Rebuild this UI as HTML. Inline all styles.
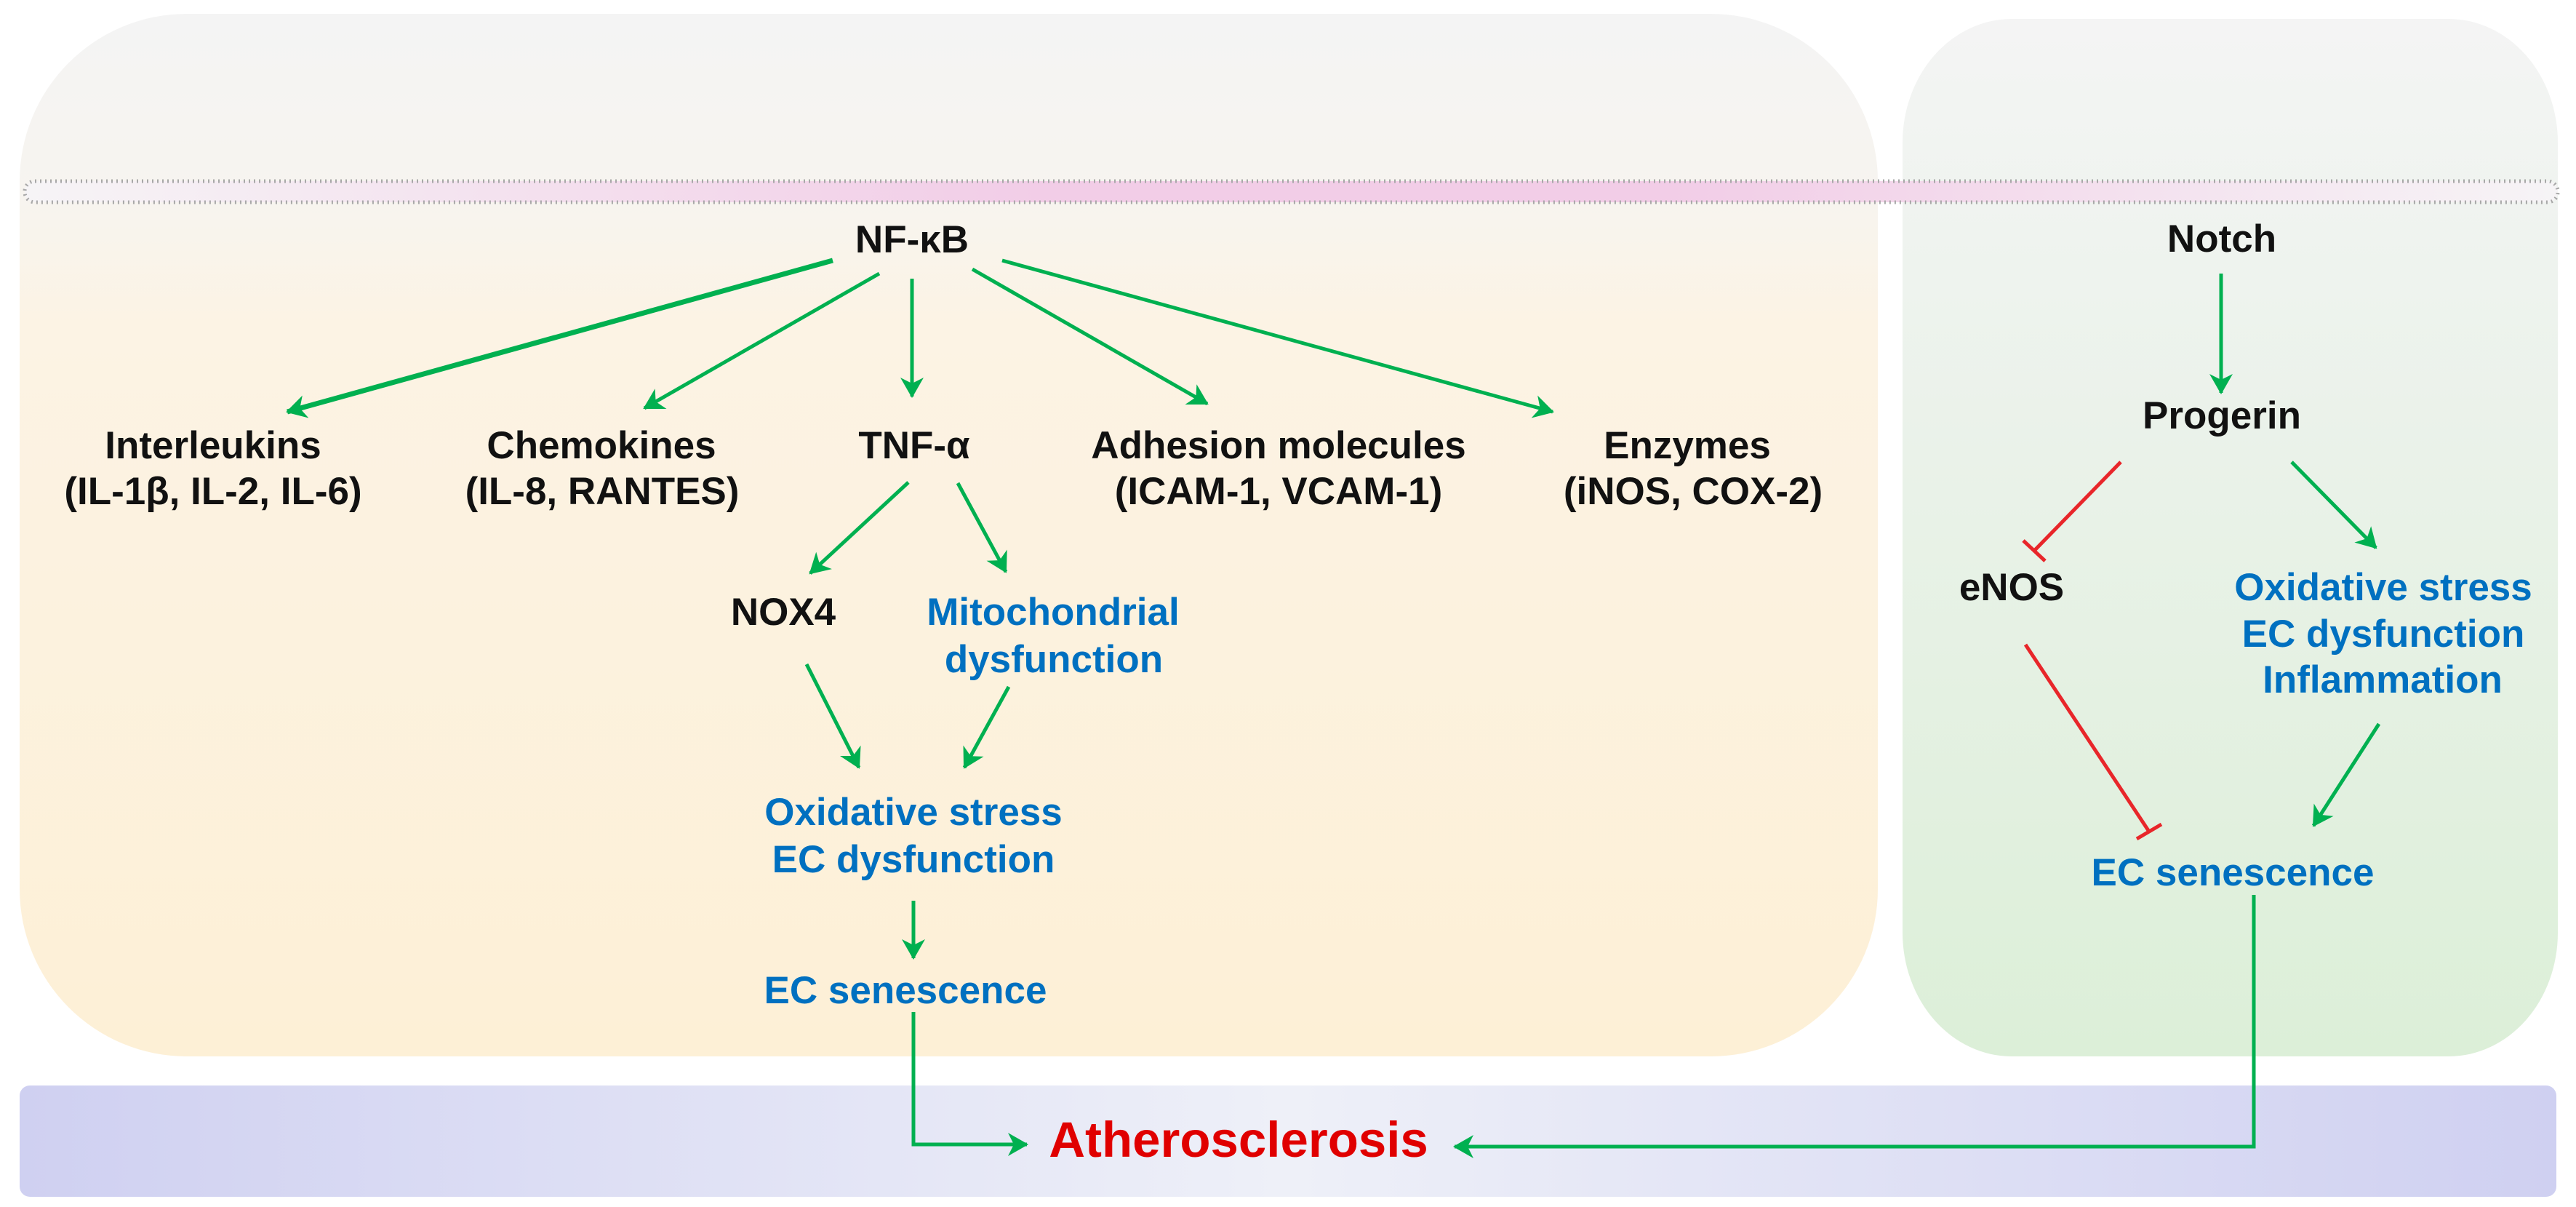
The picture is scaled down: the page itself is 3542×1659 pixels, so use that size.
<!DOCTYPE html>
<html><head><meta charset="utf-8"><style>
html,body{margin:0;padding:0;background:#fff;}
svg{display:block;}
text{font-family:"Liberation Sans",Arial,sans-serif;font-weight:bold;text-anchor:middle;}
.k{fill:#111;font-size:53px;}
.b{fill:#0070c0;font-size:53px;}
</style></head><body>
<svg width="3542" height="1659" viewBox="0 0 3542 1659" xmlns="http://www.w3.org/2000/svg">
<defs>
<linearGradient id="gl" x1="0" y1="0" x2="0" y2="1">
<stop offset="0" stop-color="#f4f4f4"/><stop offset="0.18" stop-color="#f7f4ef"/><stop offset="0.3" stop-color="#fcf3e4"/><stop offset="1" stop-color="#fdf0d6"/></linearGradient>
<linearGradient id="gr" x1="0" y1="0" x2="0" y2="1">
<stop offset="0" stop-color="#f4f4f4"/><stop offset="0.25" stop-color="#eef3ee"/><stop offset="1" stop-color="#dcefd8"/></linearGradient>
<linearGradient id="gb" x1="0" y1="0" x2="1" y2="0">
<stop offset="0" stop-color="#cfd0f1"/><stop offset="0.5" stop-color="#eef0f8"/><stop offset="1" stop-color="#cfd0f1"/></linearGradient>
<linearGradient id="gd" x1="0" y1="0" x2="1" y2="0">
<stop offset="0" stop-color="#f6f4f6"/><stop offset="0.4" stop-color="#f2cde7"/><stop offset="0.65" stop-color="#f2cde7"/><stop offset="1" stop-color="#f6f4f6"/></linearGradient>
<marker id="ah" markerWidth="10" markerHeight="10" refX="8" refY="5" orient="auto" markerUnits="userSpaceOnUse" viewBox="0 0 10 10" style="overflow:visible">
<path d="M-18,-11 L10,5 L-18,21 L-10,5 Z" fill="#00b050"/></marker>
</defs>
<rect x="27" y="19" width="2555" height="1433" rx="230" ry="230" fill="url(#gl)"/>
<rect x="2616" y="26" width="901" height="1426" rx="150" ry="170" fill="url(#gr)"/>
<rect x="34" y="249" width="3483" height="29" rx="14" fill="url(#gd)" stroke="#a8a8a8" stroke-width="5" stroke-dasharray="2 5"/>
<rect x="27" y="1492" width="3488" height="153" rx="14" fill="url(#gb)"/>

<g stroke="#00b050" stroke-width="5" fill="none" marker-end="url(#ah)">
<line x1="1145" y1="358" x2="395" y2="566" stroke-width="7"/>
<line x1="1209" y1="376" x2="886" y2="561"/>
<line x1="1254" y1="383" x2="1254" y2="545"/>
<line x1="1337" y1="370" x2="1660" y2="555"/>
<line x1="1378" y1="358" x2="2135" y2="566"/>
<line x1="1249" y1="663" x2="1114" y2="788"/>
<line x1="1317" y1="664" x2="1383" y2="786"/>
<line x1="1109" y1="913" x2="1181" y2="1055"/>
<line x1="1387" y1="944" x2="1326" y2="1055"/>
<line x1="1256" y1="1238" x2="1256" y2="1317"/>
<polyline points="1256,1391 1256,1573 1412,1573"/>
<polyline points="3099,1230 3099,1576 2000,1576"/>
<line x1="3054" y1="376" x2="3054" y2="540"/>
<line x1="3151" y1="635" x2="3267" y2="753"/>
<line x1="3271" y1="995" x2="3181" y2="1135"/>
</g>
<g stroke="#e8262a" stroke-width="5" fill="none">
<line x1="2916" y1="635" x2="2797" y2="757"/>
<line x1="2782" y1="743" x2="2812" y2="771"/>
<line x1="2785" y1="886" x2="2955" y2="1143"/>
<line x1="2938" y1="1153" x2="2972" y2="1133"/>
</g>

<text class="k" x="1254" y="347">NF-κB</text>
<text class="k" x="293" y="630">Interleukins</text>
<text class="k" x="293" y="693">(IL-1β, IL-2, IL-6)</text>
<text class="k" x="827" y="630">Chemokines</text>
<text class="k" x="828" y="693">(IL-8, RANTES)</text>
<text class="k" x="1257" y="630">TNF-α</text>
<text class="k" x="1758" y="630">Adhesion molecules</text>
<text class="k" x="1758" y="693">(ICAM-1, VCAM-1)</text>
<text class="k" x="2320" y="630">Enzymes</text>
<text class="k" x="2328" y="693">(iNOS, COX-2)</text>
<text class="k" x="1077" y="859">NOX4</text>
<text class="b" x="1448" y="859">Mitochondrial</text>
<text class="b" x="1449" y="924">dysfunction</text>
<text class="b" x="1256" y="1134">Oxidative stress</text>
<text class="b" x="1256" y="1199">EC dysfunction</text>
<text class="b" x="1245" y="1379">EC senescence</text>
<text x="1703" y="1590" style="fill:#e00000;font-size:69px">Atherosclerosis</text>
<text class="k" x="3055" y="346">Notch</text>
<text class="k" x="3055" y="589">Progerin</text>
<text class="k" x="2766" y="825">eNOS</text>
<text class="b" x="3277" y="825">Oxidative stress</text>
<text class="b" x="3277" y="889">EC dysfunction</text>
<text class="b" x="3276" y="952">Inflammation</text>
<text class="b" x="3070" y="1217">EC senescence</text>
</svg>
</body></html>
